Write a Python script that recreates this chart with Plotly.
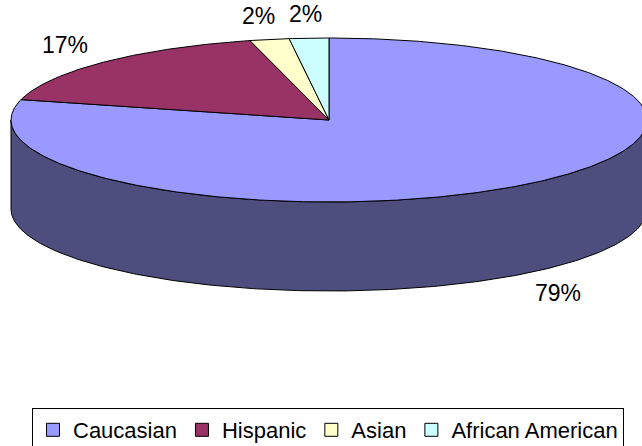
import numpy as np
import plotly.graph_objects as go

# Ethnicity breakdown (percent of total)
categories = ["Caucasian", "Hispanic", "Asian", "African American"]
shares = [79, 17, 2, 2]
top_colors = ["#9999FF", "#993366", "#FFFFCC", "#CCFFFF"]
side_colors = ["#4D4D7E", "#4D1A33", "#808066", "#668080"]

# Page size and 3-D pie geometry (pixel units on hidden axes)
W, H = 642, 446
CX, CY = 329, 120          # centre of the top face
RX, RY = 318, 82           # radii of the tilted ellipse
DEPTH = 89                 # thickness of the disc
LABEL_RX, LABEL_RY = 374, 106
FONT = "Liberation Sans, Arial, sans-serif"


def ellipse(theta_deg, drop=0.0):
    """Point on the top ellipse; theta is clockwise from 12 o'clock."""
    t = np.radians(theta_deg)
    return CX + RX * np.sin(t), CY - RY * np.cos(t) + drop


total = float(sum(shares))
bounds = np.concatenate([[0.0], np.cumsum(shares) / total * 360.0])

fig = go.Figure()

# Visible front wall of the disc (angles 90..270 face the viewer)
for i, (start, end) in enumerate(zip(bounds[:-1], bounds[1:])):
    lo, hi = max(start, 90.0), min(end, 270.0)
    if lo >= hi:
        continue
    th = np.linspace(lo, hi, 240)
    x_top, y_top = ellipse(th)
    x_bot, y_bot = ellipse(th[::-1], DEPTH)
    fig.add_trace(go.Scatter(
        x=np.concatenate([x_top, x_bot, x_top[:1]]),
        y=np.concatenate([y_top, y_bot, y_top[:1]]),
        mode="lines", fill="toself", fillcolor=side_colors[i],
        line=dict(color="black", width=1),
        hoverinfo="skip", showlegend=False,
    ))

# Top faces of the slices
for i, (start, end) in enumerate(zip(bounds[:-1], bounds[1:])):
    th = np.linspace(start, end, max(int((end - start) * 2), 8))
    xa, ya = ellipse(th)
    fig.add_trace(go.Scatter(
        x=np.concatenate([[CX], xa, [CX]]),
        y=np.concatenate([[CY], ya, [CY]]),
        mode="lines", fill="toself", fillcolor=top_colors[i],
        line=dict(color="black", width=1),
        hoverinfo="skip", showlegend=False,
    ))

# Percentage labels outside each slice
for i, (start, end) in enumerate(zip(bounds[:-1], bounds[1:])):
    mid = np.radians((start + end) / 2)
    lx = CX + LABEL_RX * np.sin(mid)
    ly = CY - LABEL_RY * np.cos(mid)
    if np.cos(mid) < 0:
        ly += DEPTH
    fig.add_annotation(
        x=lx, y=ly, text=f"{shares[i]}%", showarrow=False,
        xanchor="center", yanchor="middle",
        font=dict(family=FONT, size=23, color="black"),
    )

# Legend entries
for name, color in zip(categories, top_colors):
    fig.add_trace(go.Scatter(
        x=[None], y=[None], mode="markers", name=name,
        marker=dict(symbol="square", size=13, color=color,
                    line=dict(color="black", width=1)),
    ))

fig.update_layout(
    width=W, height=H,
    margin=dict(l=0, r=0, t=0, b=0, autoexpand=False),
    paper_bgcolor="white", plot_bgcolor="white",
    xaxis=dict(range=[0, W], visible=False, fixedrange=True),
    yaxis=dict(range=[H, 0], visible=False, fixedrange=True),
    legend=dict(
        orientation="h", x=32 / W, xanchor="left",
        y=1 - 408 / H, yanchor="top",
        bordercolor="black", borderwidth=1, bgcolor="white",
        font=dict(family=FONT, size=22, color="black"),
        itemwidth=30, traceorder="normal",
    ),
)

fig.write_html("out.html")
